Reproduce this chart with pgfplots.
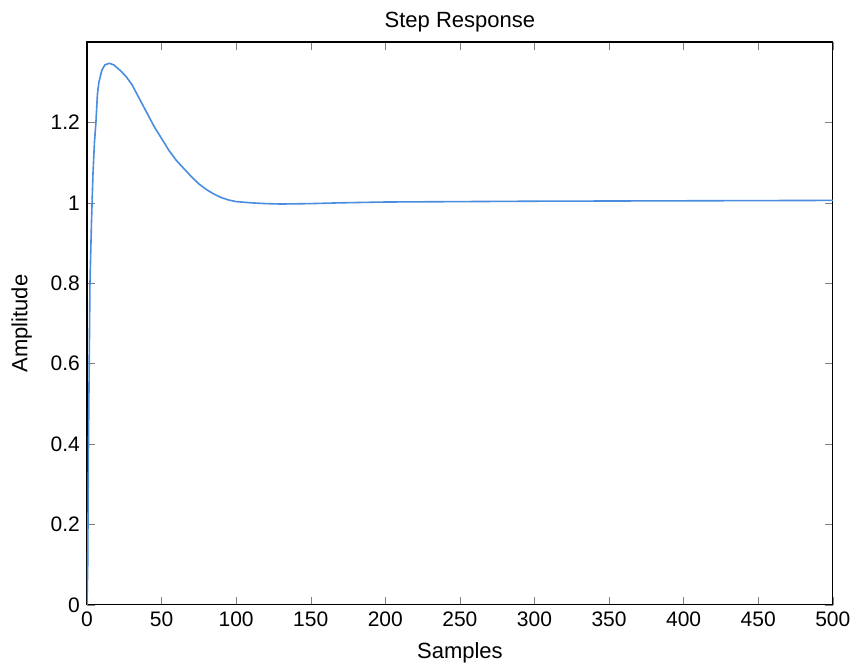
\documentclass[border=0pt]{standalone}
\usepackage{fontspec}
\setmainfont{Liberation Sans}
\usepackage{pgfplots}
\pgfplotsset{compat=1.18}
\definecolor{mline}{RGB}{74,140,222}
\begin{document}
\begin{tikzpicture}
\begin{axis}[
  scale only axis,
  width=373pt, height=281.5pt,
  xmin=0, xmax=500, ymin=0, ymax=1.4,
  xtick={0,50,...,500},
  ytick={0,0.2,0.4,0.6,0.8,1,1.2},
  yticklabels={0,0.2,0.4,0.6,0.8,1,1.2},
  tick align=inside,
  tick pos=both,
  major tick length=4pt,
  /pgf/number format/assume math mode=true,
  tick label style={font=\fontsize{10.5}{12}\selectfont},
  title={Step Response},
  title style={font=\fontsize{11}{13}\selectfont, yshift=-4.5pt},
  xlabel={Samples},
  ylabel={Amplitude},
  label style={font=\fontsize{11}{13}\selectfont},
  xlabel style={yshift=-1pt},
  ylabel style={yshift=2.5pt},
  axis line style={black, line width=0.6pt},
]
\addplot[mline, line width=0.8pt] coordinates {
(0,0) (0.5,0.1) (1,0.4) (1.5,0.6) (2,0.8) (3,0.95) (4,1.07) (5,1.15) (6,1.2)
(7,1.27) (8,1.3) (10,1.33) (12,1.343) (15,1.347) (18,1.343) (22,1.33) (26,1.315)
(30,1.295) (35,1.26) (40,1.225) (45,1.19) (50,1.16) (55,1.13) (60,1.105) (65,1.085)
(70,1.065) (75,1.047) (80,1.033) (85,1.022) (90,1.013) (95,1.007) (100,1.003)
(110,1.0) (120,0.998) (130,0.997) (150,0.998) (170,1.0) (200,1.002) (300,1.004)
(400,1.005) (500,1.006)
};
\end{axis}
\path ([xshift=-43.5pt,yshift=-29pt]current axis.south west) rectangle ([xshift=12pt,yshift=21pt]current axis.north east);
\end{tikzpicture}
\end{document}
